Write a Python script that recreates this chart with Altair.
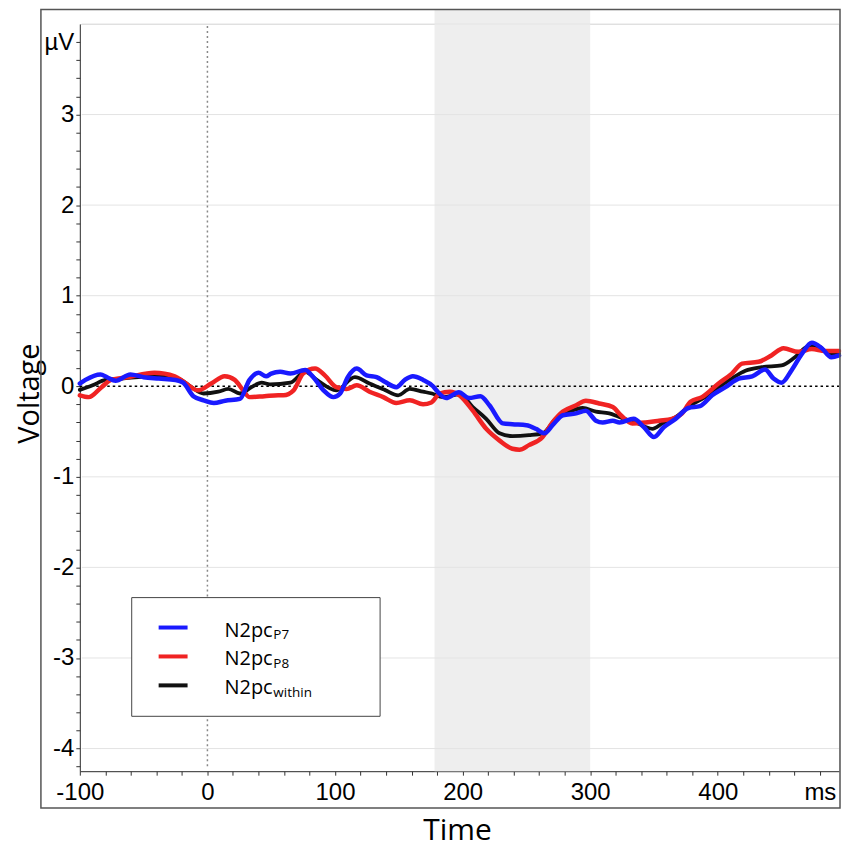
import altair as alt
import pandas as pd

# ---------------- data ----------------
blue_t = [-100, -95.6, -83.8, -78.6, -72, -60.4, -50, -38, -25, -19, -11, -3, 5, 14, 25.5, 33, 40, 46,
          50, 57, 65, 76.6, 83, 91, 98.7, 104, 110, 117, 124.7, 132.6, 139, 148, 154.7, 161, 169, 176.8,
          181, 187, 197, 205, 214, 221, 231.5, 239, 250, 257.5, 264, 270.5, 278.6, 289, 296.6, 304.5,
          309.8, 317.7, 323, 334, 342, 350, 357.8, 366.9, 377, 386, 395.6, 406, 416.4, 427, 437, 443.7,
          450, 458, 466, 473.7, 481.5, 489, 495]
blue_v = [0.03, 0.07, 0.13, 0.10, 0.06, 0.13, 0.10, 0.085, 0.07, 0.04, -0.11, -0.155, -0.185, -0.16, -0.14,
          0.07, 0.15, 0.11, 0.14, 0.16, 0.14, 0.18, 0.10, -0.045, -0.12, -0.08, 0.10, 0.195, 0.12, 0.10,
          0.05, -0.01, 0.07, 0.11, 0.07, 0.0, -0.07, -0.13, -0.065, -0.13, -0.11, -0.21, -0.41, -0.42,
          -0.43, -0.47, -0.52, -0.43, -0.32, -0.30, -0.27, -0.38, -0.40, -0.38, -0.40, -0.36, -0.45,
          -0.56, -0.45, -0.36, -0.24, -0.22, -0.10, -0.01, 0.085, 0.11, 0.185, 0.085, 0.04, 0.18, 0.36,
          0.48, 0.42, 0.32, 0.34]

red_t = [-100, -93, -83, -75.5, -62.5, -41.6, -25.6, -17.7, -7.3, 3, 13.5, 21.4, 28, 33, 44.7, 55.5,
         59.6, 67.5, 75, 84.4, 92, 101, 109, 117, 127, 137.8, 148, 158.6, 169, 175.5, 182, 190, 197.6,
         208, 218.5, 229, 239, 244.5, 252, 262.7, 270.5, 278.6, 289, 296.6, 307, 317.7, 324, 333,
         343.4, 354, 364, 372, 378.6, 387.6, 400.6, 411, 419, 432, 442, 451.5, 463, 473.7, 484, 495]
red_v = [-0.10, -0.12, -0.01, 0.07, 0.10, 0.15, 0.11, 0.04, -0.045, 0.03, 0.11, 0.07, -0.045, -0.12,
         -0.11, -0.10, -0.10, -0.045, 0.14, 0.195, 0.12, -0.01, -0.03, 0.01, -0.06, -0.12, -0.185, -0.155,
         -0.20, -0.18, -0.08, -0.06, -0.10, -0.27, -0.47, -0.60, -0.69, -0.70, -0.65, -0.56, -0.40, -0.28,
         -0.21, -0.16, -0.19, -0.23, -0.32, -0.41, -0.40, -0.38, -0.36, -0.30, -0.17, -0.12, 0.03, 0.14,
         0.25, 0.27, 0.34, 0.42, 0.38, 0.41, 0.39, 0.39]

black_t = [-100, -90, -80, -67, -41.6, -23, -12.5, -3, 8.6, 16.4, 25.5, 34.6, 42.5, 49, 65, 76.6, 85.7,
           101, 115.6, 127, 139, 149.5, 158.6, 169, 176, 184.6, 197.6, 208, 218.5, 229, 239, 252, 262.7,
           273, 284, 294, 304.5, 315, 322.7, 335.7, 348.7, 356.5, 367, 378.6, 390, 400.6, 411, 421.6,
           434.5, 450, 460.4, 471, 479, 486.6, 495]
black_v = [-0.04, 0.01, 0.07, 0.085, 0.11, 0.085, -0.01, -0.08, -0.06, -0.03, -0.08, -0.01, 0.04, 0.02,
           0.04, 0.16, 0.07, -0.045, 0.10, 0.03, -0.04, -0.10, -0.03, -0.06, -0.08, -0.12, -0.09, -0.23,
           -0.36, -0.52, -0.55, -0.54, -0.52, -0.36, -0.28, -0.24, -0.28, -0.30, -0.34, -0.40, -0.47,
           -0.41, -0.34, -0.21, -0.12, -0.01, 0.085, 0.17, 0.21, 0.23, 0.32, 0.44, 0.44, 0.36, 0.36]

window_ms = [178, 300]
grid_values = [-4, -3, -2, -1, 1, 2, 3, 4]
x_ticks = [-100, -80, -60, -40, -20, 0, 20, 40, 60, 80, 100, 120, 140, 160, 180, 200, 220, 240, 260,
           280, 300, 320, 340, 360, 380, 400, 420, 440, 460, 480]
y_ticks = [round(-4.2 + 0.2 * i, 1) for i in range(41)]
legend_main = ["N2pc", "N2pc", "N2pc"]
legend_sub = ["P7", "P8", "within"]
legend_colors = ["#1a1aff", "#f02323", "#111111"]

# ---------------- layout ----------------
W, H = 761, 749
XDOM = [-100, 495]
YDOM = [-4.25, 4.0]
LABEL_FONT = "Liberation Sans"
TEXT_FONT = "Open Sans"

xs = alt.Scale(domain=XDOM, nice=False, zero=False)
ys = alt.Scale(domain=YDOM, nice=False, zero=False)

one = pd.DataFrame({"k": [0]})

x_axis = alt.Axis(values=x_ticks, grid=False, tickSize=4, tickColor="#333", domainColor="#333",
                  labelFont=LABEL_FONT, labelFontSize=24, labelColor="#000", labelPadding=5,
                  labelFlush=False, labelOverlap=False, labelBound=False,
                  labelExpr="datum.value == 480 ? 'ms' : (datum.value % 100 == 0 ? '' + datum.value : '')",
                  title="Time", titleFont=TEXT_FONT, titleFontSize=30, titleFontWeight="normal",
                  titleColor="#000", titleX=378, titleY=68, titleBaseline="alphabetic")
y_axis = alt.Axis(values=y_ticks, grid=False, tickSize=4, tickColor="#333", domainColor="#333",
                  labelFont=LABEL_FONT, labelFontSize=24, labelColor="#000", labelPadding=2,
                  labelFlush=False, labelOverlap=False, labelBound=False,
                  labelExpr="datum.value > 3.7 ? 'µV' : (abs(datum.value - round(datum.value)) < 0.001 ? '' + round(datum.value) : '')",
                  title="Voltage", titleFont=TEXT_FONT, titleFontSize=29, titleFontWeight="normal",
                  titleColor="#000", titleX=-41, titleY=370, titleBaseline="alphabetic")

X = lambda f: alt.X(f, scale=xs, axis=x_axis)
Y = lambda f: alt.Y(f, scale=ys, axis=y_axis)

# shaded window
shade = alt.Chart(pd.DataFrame({"a": [window_ms[0]], "b": [window_ms[1]]})).mark_rect(
    color="#eeeeee").encode(
    x=X("a:Q"), x2="b:Q",
    y=alt.value(-15), y2=alt.value(H))

grid = alt.Chart(pd.DataFrame({"g": grid_values})).mark_rule(color="#e4e4e4", strokeWidth=1).encode(
    y=Y("g:Q"), x=alt.value(2), x2=alt.value(W))

zero_h = alt.Chart(one).mark_rule(color="#000", strokeWidth=1.5, strokeDash=[2.5, 3]).encode(
    y=alt.datum(0, scale=ys, axis=y_axis), x=alt.value(0), x2=alt.value(W))
zero_v = alt.Chart(one).mark_rule(color="#888", strokeWidth=1.5, strokeDash=[2, 3]).encode(
    x=alt.datum(0, scale=xs, axis=x_axis), y=alt.value(2), y2=alt.value(H - 2))


def line(t, v, color, width):
    df = pd.DataFrame({"t": t, "v": v})
    return alt.Chart(df).mark_line(color=color, strokeWidth=width, interpolate="monotone",
                                   strokeJoin="round", strokeCap="round").encode(
        x=X("t:Q"), y=Y("v:Q"))


black_line = line(black_t, black_v, legend_colors[2], 3.8)
red_line = line(red_t, red_v, legend_colors[1], 4.5)
blue_line = line(blue_t, blue_v, legend_colors[0], 4.5)

# legend
LX0, LX1, LY0, LY1 = 52, 301, 575, 694
legend_box = alt.Chart(one).mark_rect(fill="white", stroke="#444", strokeWidth=1).encode(
    x=alt.value(LX0), x2=alt.value(LX1), y=alt.value(LY0), y2=alt.value(LY1))
legend_layers = [legend_box]
for i in range(3):
    yl = 605 + 29 * i
    legend_layers.append(alt.Chart(one).mark_rule(color=legend_colors[i], strokeWidth=4).encode(
        x=alt.value(79), x2=alt.value(108), y=alt.value(yl)))
    legend_layers.append(alt.Chart(one).mark_text(
        text=legend_main[i], font=TEXT_FONT, fontSize=20, align="left", baseline="alphabetic",
        color="#000").encode(x=alt.value(145), y=alt.value(yl + 9)))
    legend_layers.append(alt.Chart(one).mark_text(
        text=legend_sub[i], font=TEXT_FONT, fontSize=13.5, align="left", baseline="alphabetic",
        color="#000").encode(x=alt.value(194), y=alt.value(yl + 12)))

frame = alt.Chart(one).mark_rect(fill=None, stroke="#555", strokeWidth=1.5).encode(
    x=alt.value(-39), x2=alt.value(762), y=alt.value(-14.5), y2=alt.value(786))

chart = alt.layer(shade, grid, zero_h, zero_v, black_line, red_line, blue_line,
                  *legend_layers, frame).properties(
    width=W, height=H,
    autosize=alt.AutoSizeParams(type="none"),
    padding={"left": 72, "top": 15, "right": 4, "bottom": 78},
).configure_view(stroke=None).configure_axis(labelOverlap=False).configure(background="white")

chart.save("out.html", embed_options={"renderer": "svg", "actions": False})
